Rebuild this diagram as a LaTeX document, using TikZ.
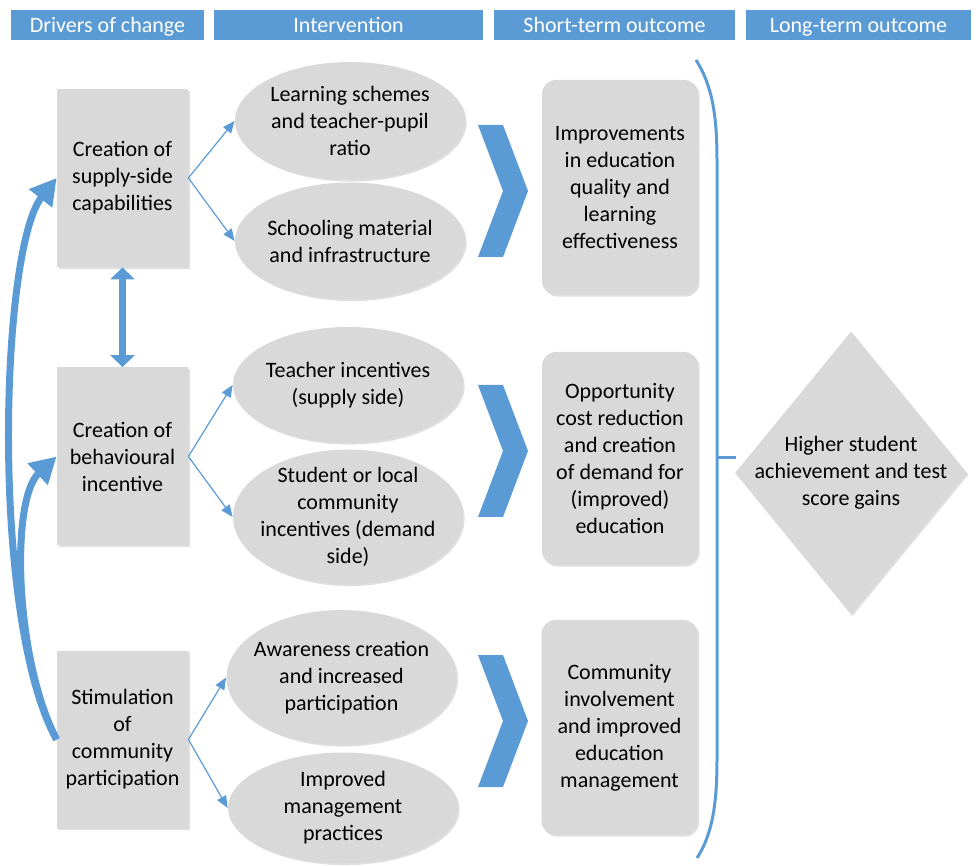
\documentclass[tikz,border=0pt]{standalone}
\usepackage{fontspec}
\setmainfont{Carlito}
\usetikzlibrary{arrows.meta,shapes.geometric,shadows}
\definecolor{chartblue}{HTML}{5B9BD5}
\definecolor{boxgray}{HTML}{D9D9D9}
\tikzset{
  every node/.style={font=\fontsize{11}{13.5}\selectfont, align=center},
  header/.style={fill=chartblue, text=white, minimum height=15pt, inner sep=0pt, text height=9.5pt, text depth=2pt},
  softshadow/.style={drop shadow={shadow xshift=0.8pt, shadow yshift=-0.8pt, opacity=0.25}},
  driver/.style={fill=boxgray, minimum width=65.5pt, minimum height=89pt, inner sep=0pt, softshadow},
  intervention/.style={ellipse, fill=boxgray, minimum width=115pt, inner sep=-12pt, softshadow},
  shortterm/.style={fill=boxgray, rounded corners=7pt, minimum width=78pt, inner sep=0pt, softshadow},
  longterm/.style={diamond, fill=boxgray, minimum width=116pt, minimum height=141.5pt, inner sep=-15pt, softshadow},
  branch/.style={draw=chartblue, line width=0.6pt, -{Triangle[length=6pt,width=5pt]}},
  link/.style={draw=chartblue, line width=3.5pt, {Triangle[length=6pt,width=12pt]}-{Triangle[length=6pt,width=12pt]}},
  feedback/.style={draw=chartblue, line width=3.5pt, -{Triangle[length=13pt,width=14pt]}}
}
\begin{document}
\begin{tikzpicture}[x=0.5pt,y=-0.5pt]
        \useasboundingbox (0,0) rectangle (976,866);
        % column headers
        \node[header, minimum width=96.5pt] (hdrdrivers) at (107.5,25) {Drivers of change};
        \node[header, minimum width=134.5pt] (hdrintervention) at (348.5,25) {Intervention};
        \node[header, minimum width=120.5pt] (hdrshort) at (614.5,25) {Short-term outcome};
        \node[header, minimum width=112.5pt] (hdrlong) at (858.5,25) {Long-term outcome};
        % drivers
        \node[driver] (supply) at (122.5,178) {Creation of\\supply-side\\capabilities};
        \node[driver] (behaviour) at (122.5,456.5) {Creation of\\behavioural\\incentive};
        \node[driver] (community) at (122.5,739.5) {Stimulation\\of\\community\\participation};
        % interventions
        \node[intervention, minimum height=59pt] (schemes) at (350,121) {Learning schemes\\and teacher-pupil\\ratio};
        \node[intervention, minimum height=58.5pt] (material) at (350,241) {Schooling material\\and infrastructure};
        \node[intervention, minimum height=58pt] (teacher) at (348,385) {Teacher incentives\\(supply side)};
        \node[intervention, minimum height=67.5pt] (student) at (348,517) {Student or local\\community\\incentives (demand\\side)};
        \node[intervention, minimum height=67.5pt] (awareness) at (341.5,677.5) {Awareness creation\\and increased\\participation};
        \node[intervention, minimum height=55.5pt] (practices) at (343,808) {Improved\\management\\practices};
        % short-term outcomes
        \node[shortterm, minimum height=107.5pt] (quality) at (620,187.5) {Improvements\\in education\\quality and\\learning\\effectiveness};
        \node[shortterm, minimum height=106.5pt] (demand) at (620,458.5) {Opportunity\\cost reduction\\and creation\\of demand for\\(improved)\\education};
        \node[shortterm, minimum height=107.5pt] (involvement) at (619.5,727.5) {Community\\involvement\\and improved\\education\\management};
        % long-term outcome
        \node[longterm] (gains) at (851,473) {};
        \node (gainstext) at (gains) {Higher student\\achievement and test\\score gains};
        % chevrons
        \foreach \y in {125,385,655}
            \fill[chartblue] (478,\y) -- ++(25,0) -- ++(25,66) -- ++(-25,66) -- ++(-25,0) -- ++(25,-66) -- cycle;
        % bracket
        \draw[chartblue, line width=1.5pt] (696,60) .. controls (712,85) and (717,115) .. (717,160) -- (717,760) .. controls (717,805) and (712,835) .. (697,858);
        \coordinate (tick) at (717,458);
        \draw[chartblue, line width=1.5pt] (tick) -- ++(19,0);
        % arrows
        \draw[branch] (supply.east) -- (schemes.west);
        \draw[branch] (supply.east) -- (material.west);
        \draw[branch] (behaviour.east) -- (teacher.west);
        \draw[branch] (behaviour.east) -- (student.west);
        \draw[branch] (community.east) -- (awareness.west);
        \draw[branch] (community.east) -- (practices.west);
        \draw[link] (supply.south) -- (behaviour.north);
        \draw[feedback] (community.west) .. controls (-10,620) and (0,250) .. (supply.west);
        \draw[feedback] (community.west) .. controls (15,660) and (10,500) .. (behaviour.west);
\end{tikzpicture}
\end{document}
